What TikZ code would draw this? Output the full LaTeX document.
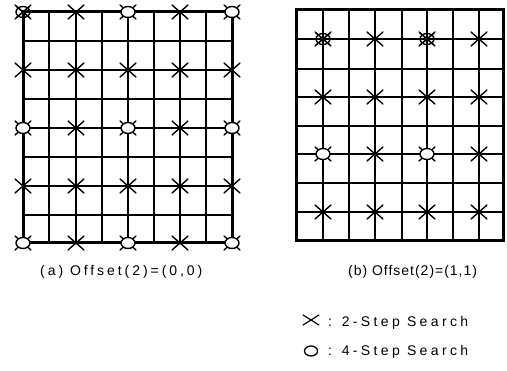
\documentclass[tikz,border=0pt]{standalone}
\usepackage{fontspec}
\newfontfamily\lblfont{Liberation Sans}
\begin{document}
\begin{tikzpicture}[x=1pt,y=-1pt,
  frame/.style={line width=3pt},
  gline/.style={line width=1.8pt},
  mk/.style={line width=1.4pt,line cap=round},
  xm/.pic={\draw[mk] (-8,-7)--(8,7) (-8,7)--(8,-7);},
  om/.pic={\draw[mk,fill=white] (0,0) ellipse [x radius=7,y radius=5.5];},
  ox/.pic={\draw[mk] (-6.5,-5.5)--(6.5,5.5) (-6.5,5.5)--(6.5,-5.5);
           \draw[mk] (0,0) ellipse [x radius=7,y radius=5.5];},
  lbl/.style={font=\lblfont\fontsize{14}{16}\selectfont, anchor=base west, inner sep=0pt}]
\useasboundingbox (0,0) rectangle (507,371);
% ---------- left grid (a) ----------
\foreach \x in {49,76,102,128,154,180,206}
  \draw[gline] (\x,12) -- (\x,243);
\foreach \y in {41,70,99,128,157,186,215}
  \draw[gline] (23,\y) -- (232,\y);
\draw[frame] (23,12) rectangle (232,243);
% markers (a)
\foreach \x in {23,76,128,180,232}
  \foreach \y in {12,70,128,186,243}
    \pic at (\x,\y) {xm};
\foreach \x/\y in {128/12,232/12,23/128,128/128,232/128,23/243,128/243,232/243}
  \pic at (\x,\y) {om};
\pic at (23,12) {ox};
% ---------- right grid (b) ----------
\foreach \x in {323,349,375,402,427,453,479}
  \draw[gline] (\x,10) -- (\x,241);
\foreach \y in {39,69,97,126,154,183,212}
  \draw[gline] (296,\y) -- (503,\y);
\draw[frame] (296,10) rectangle (503,241);
\foreach \x in {323,375,427,479}
  \foreach \y in {39,97,154,212}
    \pic at (\x,\y) {xm};
\foreach \x/\y in {323/154,427/154}
  \pic at (\x,\y) {om};
\foreach \x/\y in {323/39,427/39}
  \pic at (\x,\y) {ox};
% ---------- captions ----------
\node[lbl] (capa) at (40,276) {\addfontfeatures{LetterSpace=21}(a) Offset(2)=(0,0)};
\node[lbl] (capb) at (348,276) {\addfontfeatures{LetterSpace=7}(b) Offset(2)=(1,1)};
% ---------- legend ----------
\draw[mk,line width=1.2pt] (303,315) -- (319,325) (303,325) -- (319,315);
\draw[mk,line width=1.3pt] (311,351) ellipse [x radius=6.5,y radius=5];
\node[lbl] (leg1) at (328,327) {\addfontfeatures{LetterSpace=24}: 2-Step Search};
\node[lbl] (leg2) at (328,356) {\addfontfeatures{LetterSpace=24}: 4-Step Search};
\end{tikzpicture}
\end{document}
